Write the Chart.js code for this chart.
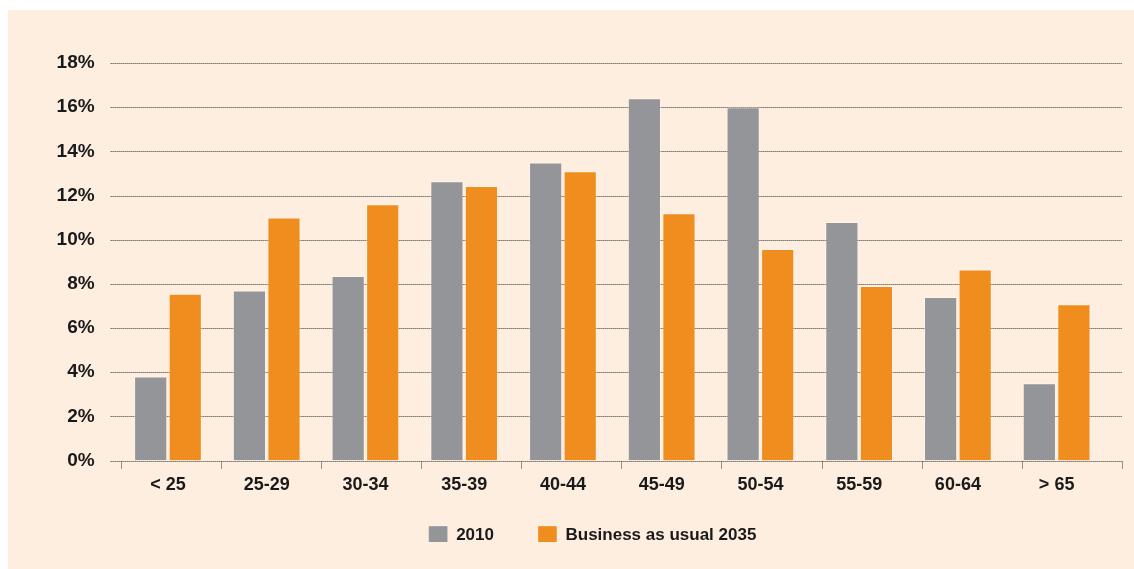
<!DOCTYPE html>
<html>
<head>
<meta charset="utf-8">
<script src="https://cdn.jsdelivr.net/npm/chart.js@4/dist/chart.umd.min.js"></script>
<style>
  html, body { margin: 0; padding: 0; background: #fff; }
  #panel { position: absolute; left: 8px; top: 10px; right: 0; bottom: 0; background: #feeee0; }
  #wrap { position: absolute; left: 0; top: 0; width: 1134px; height: 569px; }
</style>
</head>
<body>
<div id="panel"></div>
<div id="wrap"><canvas id="chart"></canvas></div>
<script>
// age groups and share of workforce (%)
const categories = ["< 25", "25-29", "30-34", "35-39", "40-44", "45-49", "50-54", "55-59", "60-64", "> 65"];
const values2010 = [3.8, 7.7, 8.35, 12.65, 13.5, 16.4, 16.0, 10.8, 7.4, 3.5];
const valuesBau2035 = [7.55, 11.0, 11.6, 12.43, 13.1, 11.2, 9.58, 7.9, 8.65, 7.08];
const yTicks = [0, 2, 4, 6, 8, 10, 12, 14, 16, 18];

const font = "'Liberation Sans', Arial, Helvetica, sans-serif";

// dotted horizontal grid (reaching a bit past the bars) plus the little marks under the axis
const dottedGrid = {
    id: "dottedGrid",
    afterLayout(chart) {
        // legend sits a little right of the canvas centre and tucked up under the labels
        chart.legend.left += 12;
        chart.legend.right += 12;
        chart.legend.top -= 14.5;
        chart.legend.bottom -= 14.5;
    },
    beforeDatasetsDraw(chart) {
        const { ctx, chartArea, scales: { y } } = chart;
        const left = chartArea.left - 8;
        const right = chartArea.right + 16;
        ctx.save();
        ctx.strokeStyle = "#333";
        ctx.lineWidth = 1;
        ctx.setLineDash([1, 1]);
        yTicks.forEach((t) => {
            const py = Math.round(y.getPixelForValue(t)) + 0.5;
            ctx.beginPath();
            ctx.moveTo(left, py);
            ctx.lineTo(right, py);
            ctx.stroke();
        });
        const base = Math.round(y.getPixelForValue(0)) + 0.5;
        const step = (right - left - 10) / categories.length;
        for (let i = 0; i <= categories.length; i++) {
            const px = Math.round(left + 10 + i * step) + 0.5;
            ctx.beginPath();
            ctx.moveTo(px, base);
            ctx.lineTo(px, base + 8);
            ctx.stroke();
        }
        ctx.restore();
    }
};

new Chart(document.getElementById("chart"), {
    type: "bar",
    data: {
        labels: categories,
        datasets: [
            {
                label: "2010",
                data: values2010,
                backgroundColor: "#939598",
                borderColor: "rgba(255,255,255,0.3)",
                borderWidth: 1
            },
            {
                label: "Business as usual 2035",
                data: valuesBau2035,
                backgroundColor: "#f08d1f",
                borderColor: "rgba(255,255,255,0.3)",
                borderWidth: 1
            }
        ]
    },
    options: {
        responsive: true,
        maintainAspectRatio: false,
        animation: false,
        layout: { padding: { left: 55, right: 28, top: 63, bottom: 12.5 } },
        datasets: { bar: { categoryPercentage: 0.7, barPercentage: 0.96 } },
        scales: {
            x: {
                grid: { display: false, drawTicks: false },
                border: { display: false },
                ticks: {
                    color: "#1a1a1a",
                    font: { family: font, size: 18, weight: "bold" },
                    padding: 14,
                    autoSkip: false,
                    maxRotation: 0
                },
                afterFit(scale) { scale.height = 36; }
            },
            y: {
                min: 0,
                max: 18,
                grid: { display: false, drawTicks: false },
                border: { display: false },
                ticks: {
                    stepSize: 2,
                    color: "#1a1a1a",
                    font: { family: font, size: 19, weight: "bold" },
                    padding: 24,
                    callback: (v) => v + "%"
                },
                afterFit(scale) { scale.width = 63.6; }
            }
        },
        plugins: {
            legend: {
                position: "bottom",
                maxHeight: 60,
                labels: {
                    boxWidth: 19,
                    boxHeight: 18,
                    padding: 44,
                    color: "#1a1a1a",
                    font: { family: font, size: 17, weight: "bold" }
                }
            },
            tooltip: { enabled: false }
        }
    },
    plugins: [dottedGrid]
});
</script>
</body>
</html>
